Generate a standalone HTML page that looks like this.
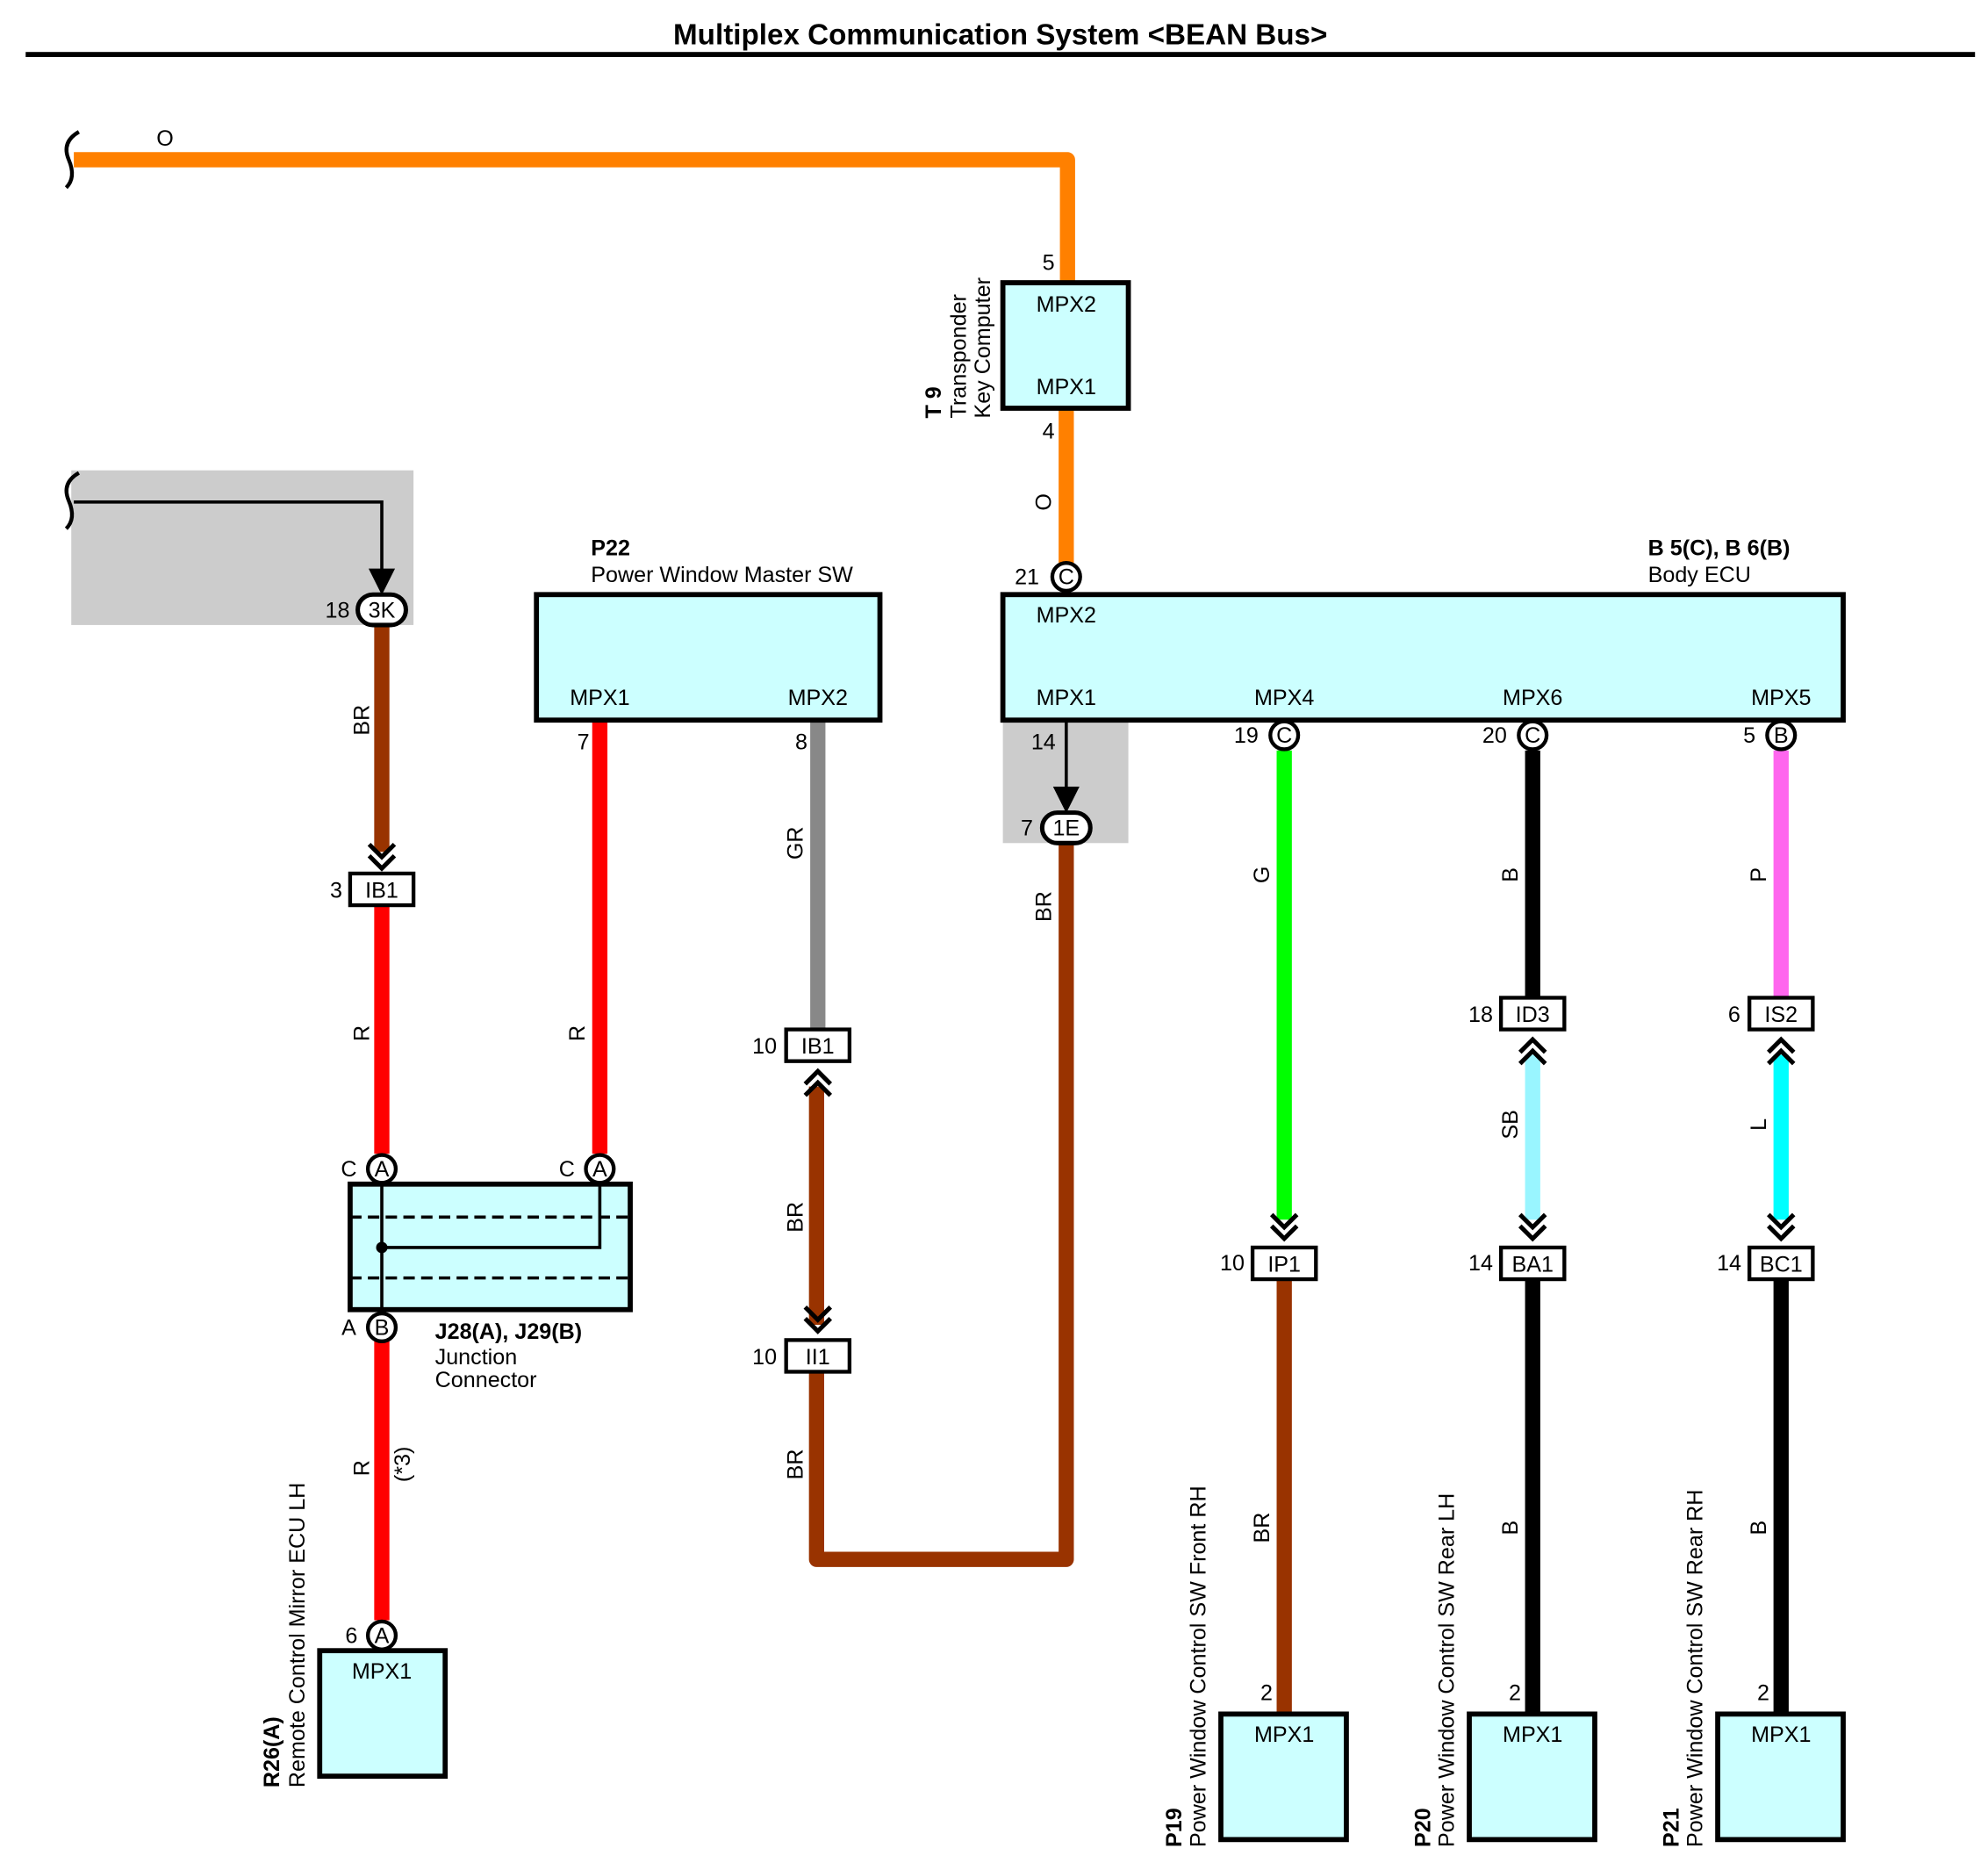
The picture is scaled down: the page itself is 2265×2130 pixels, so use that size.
<!DOCTYPE html>
<html><head><meta charset="utf-8"><style>
html,body{margin:0;padding:0;background:#fff}
svg{display:block}
text{font-family:"Liberation Sans",Arial,sans-serif;font-size:17.4px;fill:#000}
.b{font-weight:bold}
.box{fill:#ccffff;stroke:#000;stroke-width:4}
.cn{fill:#fff;stroke:#000;stroke-width:3}
.w{fill:none;stroke-width:12;stroke-linecap:butt;stroke-linejoin:round}
</style></head><body>
<svg width="2265" height="2130" viewBox="0 0 1568 1475" xmlns="http://www.w3.org/2000/svg">
<defs>
<path id="cd" d="M-10,-14 L0,-4 L10,-14 M-10,-5 L0,5 L10,-5" fill="none" stroke="#000" stroke-width="3.5"/>
<path id="cu" d="M-10,14 L0,4 L10,14 M-10,5 L0,-5 L10,5" fill="none" stroke="#000" stroke-width="3.5"/>
</defs>
<text x="789" y="35" text-anchor="middle" class="b" style="font-size:23px">Multiplex Communication System &lt;BEAN Bus&gt;</text>
<rect x="20" y="41" width="1538" height="4" fill="#000"/>

<rect x="56" y="371" width="270" height="122" fill="#cccccc"/>
<rect x="791" y="568" width="99" height="97" fill="#cccccc"/>

<path class="w" stroke="#ff8000" d="M58,126 H842 V222"/>
<path class="w" stroke="#ff8000" d="M841,322 V444"/>
<path d="M62,104 Q48,112 54,126 Q60,140 52,148" fill="none" stroke="#000" stroke-width="3"/>
<text x="130" y="115" text-anchor="middle">O</text>
<text transform="translate(829,396) rotate(-90)" text-anchor="middle">O</text>

<rect class="box" x="791" y="223" width="99" height="99"/>
<text x="841" y="246" text-anchor="middle">MPX2</text>
<text x="841" y="311" text-anchor="middle">MPX1</text>
<text x="827" y="213" text-anchor="middle">5</text>
<text x="827" y="346" text-anchor="middle">4</text>
<text transform="translate(742,330) rotate(-90)" class="b">T 9</text>
<text transform="translate(762,330) rotate(-90)">Transponder</text>
<text transform="translate(781,330) rotate(-90)">Key Computer</text>

<path class="w" stroke="#00ff00" d="M1013,592 V962"/>
<path class="w" stroke="#993300" d="M1013,1009 V1352"/>
<path class="w" stroke="#000" d="M1209,592 V787"/>
<path class="w" stroke="#99f5ff" d="M1209,832 V962"/>
<path class="w" stroke="#000" d="M1209,1009 V1352"/>
<path class="w" stroke="#ff66ee" d="M1405,592 V787"/>
<path class="w" stroke="#00ffff" d="M1405,832 V962"/>
<path class="w" stroke="#000" d="M1405,1009 V1352"/>
<path class="w" stroke="#993300" d="M841,665 V1230 H644 V1082"/>

<rect class="box" x="791" y="469" width="663" height="99"/>
<text x="841" y="491" text-anchor="middle">MPX2</text>
<text x="841" y="556" text-anchor="middle">MPX1</text>
<text x="1013" y="556" text-anchor="middle">MPX4</text>
<text x="1209" y="556" text-anchor="middle">MPX6</text>
<text x="1405" y="556" text-anchor="middle">MPX5</text>
<text x="1300" y="438" class="b">B 5(C), B 6(B)</text>
<text x="1300" y="459">Body ECU</text>
<circle class="cn" cx="841" cy="455" r="11"/><text x="841" y="461" text-anchor="middle">C</text>
<text x="810" y="461" text-anchor="middle">21</text>
<circle class="cn" cx="1013" cy="580" r="11"/><text x="1013" y="586" text-anchor="middle">C</text>
<text x="983" y="586" text-anchor="middle">19</text>
<circle class="cn" cx="1209" cy="580" r="11"/><text x="1209" y="586" text-anchor="middle">C</text>
<text x="1179" y="586" text-anchor="middle">20</text>
<circle class="cn" cx="1405" cy="580" r="11"/><text x="1405" y="586" text-anchor="middle">B</text>
<text x="1380" y="586" text-anchor="middle">5</text>

<path d="M841,568 V630" stroke="#000" stroke-width="2.5"/>
<path d="M833,622 L841,638 L849,622 Z" fill="#000" stroke="#000" stroke-width="3"/>
<rect x="822" y="641" width="38" height="24" rx="12" class="cn" style="stroke-width:3.5"/>
<text x="841" y="659" text-anchor="middle">1E</text>
<text x="823" y="591" text-anchor="middle">14</text>
<text x="810" y="659" text-anchor="middle">7</text>
<text transform="translate(829,715) rotate(-90)" text-anchor="middle">BR</text>

<text transform="translate(1001,690) rotate(-90)" text-anchor="middle">G</text>
<text transform="translate(1197,690) rotate(-90)" text-anchor="middle">B</text>
<text transform="translate(1393,690) rotate(-90)" text-anchor="middle">P</text>
<text transform="translate(1197,887) rotate(-90)" text-anchor="middle">SB</text>
<text transform="translate(1393,887) rotate(-90)" text-anchor="middle">L</text>
<text transform="translate(1001,1205) rotate(-90)" text-anchor="middle">BR</text>
<text transform="translate(1197,1205) rotate(-90)" text-anchor="middle">B</text>
<text transform="translate(1393,1205) rotate(-90)" text-anchor="middle">B</text>

<rect x="1184" y="787" width="50" height="25" class="cn"/><text x="1209" y="806" text-anchor="middle">ID3</text>
<text x="1168" y="806" text-anchor="middle">18</text>
<use href="#cu" x="1209" y="825"/>
<rect x="1380" y="787" width="50" height="25" class="cn"/><text x="1405" y="806" text-anchor="middle">IS2</text>
<text x="1368" y="806" text-anchor="middle">6</text>
<use href="#cu" x="1405" y="825"/>

<use href="#cd" x="1013" y="972"/>
<use href="#cd" x="1209" y="972"/>
<use href="#cd" x="1405" y="972"/>
<rect x="988" y="984" width="50" height="25" class="cn"/><text x="1013" y="1003" text-anchor="middle">IP1</text>
<text x="972" y="1002" text-anchor="middle">10</text>
<rect x="1184" y="984" width="50" height="25" class="cn"/><text x="1209" y="1003" text-anchor="middle">BA1</text>
<text x="1168" y="1002" text-anchor="middle">14</text>
<rect x="1380" y="984" width="50" height="25" class="cn"/><text x="1405" y="1003" text-anchor="middle">BC1</text>
<text x="1364" y="1002" text-anchor="middle">14</text>

<rect class="box" x="963" y="1352" width="99" height="99"/><text x="1013" y="1374" text-anchor="middle">MPX1</text>
<text x="999" y="1341" text-anchor="middle">2</text>
<rect class="box" x="1159" y="1352" width="99" height="99"/><text x="1209" y="1374" text-anchor="middle">MPX1</text>
<text x="1195" y="1341" text-anchor="middle">2</text>
<rect class="box" x="1355" y="1352" width="99" height="99"/><text x="1405" y="1374" text-anchor="middle">MPX1</text>
<text x="1391" y="1341" text-anchor="middle">2</text>
<text transform="translate(932,1457) rotate(-90)" class="b">P19</text>
<text transform="translate(951,1457) rotate(-90)">Power Window Control SW Front RH</text>
<text transform="translate(1128,1457) rotate(-90)" class="b">P20</text>
<text transform="translate(1147,1457) rotate(-90)">Power Window Control SW Rear LH</text>
<text transform="translate(1324,1457) rotate(-90)" class="b">P21</text>
<text transform="translate(1343,1457) rotate(-90)">Power Window Control SW Rear RH</text>

<path class="w" stroke="#ff0000" d="M473,568 V910"/>
<path class="w" stroke="#888888" d="M645,568 V812"/>
<path class="w" stroke="#993300" d="M644,857 V1045"/>
<rect class="box" x="423" y="469" width="271" height="99"/>
<text x="473" y="556" text-anchor="middle">MPX1</text>
<text x="645" y="556" text-anchor="middle">MPX2</text>
<text x="466" y="438" class="b">P22</text>
<text x="466" y="459">Power Window Master SW</text>
<text x="460" y="591" text-anchor="middle">7</text>
<text x="632" y="591" text-anchor="middle">8</text>
<text transform="translate(461,815) rotate(-90)" text-anchor="middle">R</text>
<text transform="translate(633,665) rotate(-90)" text-anchor="middle">GR</text>
<text transform="translate(633,960) rotate(-90)" text-anchor="middle">BR</text>
<text transform="translate(633,1155) rotate(-90)" text-anchor="middle">BR</text>
<rect x="620" y="812" width="50" height="25" class="cn"/><text x="645" y="831" text-anchor="middle">IB1</text>
<text x="603" y="831" text-anchor="middle">10</text>
<use href="#cu" x="645" y="850"/>
<use href="#cd" x="645" y="1045"/>
<rect x="620" y="1057" width="50" height="25" class="cn"/><text x="645" y="1076" text-anchor="middle">II1</text>
<text x="603" y="1076" text-anchor="middle">10</text>

<path d="M62,373 Q48,381 54,395 Q60,409 52,417" fill="none" stroke="#000" stroke-width="3"/>
<path d="M58,396 H301 V458" fill="none" stroke="#000" stroke-width="2.5"/>
<path d="M293,450 L301,466 L309,450 Z" fill="#000" stroke="#000" stroke-width="3"/>
<path class="w" stroke="#993300" d="M301,493 V672"/>
<path class="w" stroke="#ff0000" d="M301,714 V910"/>
<path class="w" stroke="#ff0000" d="M301,1058 V1278"/>
<rect x="282" y="469" width="38" height="24" rx="12" class="cn" style="stroke-width:3.5"/>
<text x="301" y="487" text-anchor="middle">3K</text>
<text x="266" y="487" text-anchor="middle">18</text>
<text transform="translate(291,568) rotate(-90)" text-anchor="middle">BR</text>
<use href="#cd" x="301" y="680"/>
<rect x="276" y="689" width="50" height="25" class="cn"/><text x="301" y="708" text-anchor="middle">IB1</text>
<text x="265" y="708" text-anchor="middle">3</text>
<text transform="translate(291,815) rotate(-90)" text-anchor="middle">R</text>

<rect class="box" x="276" y="934" width="221" height="99"/>
<path d="M276,960 H497 M276,1008 H497" stroke="#000" stroke-width="2.5" stroke-dasharray="9,5"/>
<path d="M301,922 V1047 M301,984 H473 V922" fill="none" stroke="#000" stroke-width="2.5"/>
<circle cx="301" cy="984" r="4.5" fill="#000"/>
<circle class="cn" cx="301" cy="922" r="11"/><text x="301" y="928" text-anchor="middle">A</text>
<text x="275" y="928" text-anchor="middle">C</text>
<circle class="cn" cx="473" cy="922" r="11"/><text x="473" y="928" text-anchor="middle">A</text>
<text x="447" y="928" text-anchor="middle">C</text>
<circle class="cn" cx="301" cy="1047" r="11"/><text x="301" y="1053" text-anchor="middle">B</text>
<text x="275" y="1053" text-anchor="middle">A</text>
<text x="343" y="1056" class="b">J28(A), J29(B)</text>
<text x="343" y="1076">Junction</text>
<text x="343" y="1094">Connector</text>
<text transform="translate(291,1158) rotate(-90)" text-anchor="middle">R</text>
<text transform="translate(323,1155) rotate(-90)" text-anchor="middle">(*3)</text>
<circle class="cn" cx="301" cy="1290" r="11"/><text x="301" y="1296" text-anchor="middle">A</text>
<text x="277" y="1296" text-anchor="middle">6</text>
<rect class="box" x="252" y="1302" width="99" height="99"/><text x="301" y="1324" text-anchor="middle">MPX1</text>
<text transform="translate(220,1410) rotate(-90)" class="b">R26(A)</text>
<text transform="translate(240,1410) rotate(-90)">Remote Control Mirror ECU LH</text>
</svg>
</body></html>
